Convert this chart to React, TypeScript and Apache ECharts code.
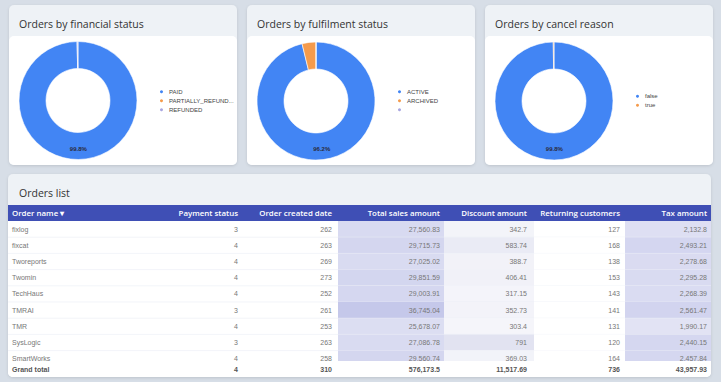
import React, { useEffect, useRef } from "react";
import * as echarts from "echarts";

const financialNames = ["PAID", "PARTIALLY_REFUNDED", "REFUNDED"];
const financialValues = [99.8, 0, 0.2];
const fulfilmentNames = ["ACTIVE", "ARCHIVED", " "];
const fulfilmentValues = [96.2, 3.8, 0];
const cancelNames = ["false", "true"];
const cancelValues = [99.8, 0.2];

const cardTitles = ["Orders by financial status", "Orders by fulfilment status", "Orders by cancel reason"];
const tableTitle = "Orders list";
const headers = ["Order name ▾", "Payment status", "Order created date", "Total sales amount", "Discount amount", "Returning customers", "Tax amount"];

const orderNames = ["fixlog", "fixcat", "Tworeports", "Twomin", "TechHaus", "TMRAI", "TMR", "SysLogic", "SmartWorks"];
const paymentStatus = [3, 4, 4, 4, 4, 3, 4, 3, 4];
const createdDate = [262, 263, 269, 273, 252, 261, 253, 263, 258];
const totalSales = [27560.83, 29715.73, 27025.02, 29851.59, 29003.91, 36745.04, 25678.07, 27086.78, 29560.74];
const discountAmount = [342.7, 583.74, 388.7, 406.41, 317.15, 352.73, 303.4, 791, 369.03];
const returningCustomers = [127, 168, 138, 153, 143, 141, 131, 120, 164];
const taxAmount = [2132.8, 2493.21, 2278.68, 2295.28, 2268.39, 2561.47, 1990.17, 2440.15, 2457.84];
const grandTotalLabel = "Grand total";
const grandTotals = [4, 310, 576173.5, 11517.69, 736, 43957.93];

const PALETTE = ["#4285f4", "#f59b4c", "#a9a6e0"];

function fmt(v: number) {
  return v.toLocaleString("en-US", { maximumFractionDigits: 2 });
}
function hex(c: string) {
  return [1, 3, 5].map((i) => parseInt(c.slice(i, i + 2), 16));
}
function lerp(c0: string, c1: string, t: number) {
  const a = hex(c0), b = hex(c1);
  return "rgb(" + a.map((v, i) => Math.round(v + (b[i] - v) * t)).join(",") + ")";
}
function scaleColor(arr: number[], v: number, c0: string, c1: string) {
  const mn = Math.min(...arr), mx = Math.max(...arr);
  return lerp(c0, c1, (v - mn) / (mx - mn));
}

export default function App() {
  const ref = useRef<HTMLDivElement>(null);
  useEffect(() => {
    if (!ref.current) return;
    const chart = echarts.init(ref.current, undefined, { renderer: "svg" });
    const titleFont = "'Open Sans', sans-serif";
    const headFont = "'Open Sans', sans-serif";
    const cellFont = "'Liberation Sans', Arial, sans-serif";
    const shadow = { shadowBlur: 3, shadowOffsetY: 1, shadowColor: "rgba(0,0,0,0.12)" };
    const g: any[] = [];
    const cardX = [9, 247, 485];
    cardX.forEach((x, i) => {
      g.push({ type: "rect", shape: { x, y: 5, width: 228, height: 160, r: 5 }, style: { fill: "#eef2f6", ...shadow } });
      g.push({ type: "rect", shape: { x, y: 36, width: 228, height: 129, r: 5 }, style: { fill: "#ffffff" } });
      g.push({ type: "text", style: { text: cardTitles[i], x: x + 10, y: 23.5, fontSize: 10.5, fontFamily: titleFont, fill: "#333333", align: "left", verticalAlign: "middle" } });
    });
    // table card
    const L = 8, R = 711;
    g.push({ type: "rect", shape: { x: L, y: 174, width: R - L, height: 203, r: 5 }, style: { fill: "#eef2f6", ...shadow } });
    g.push({ type: "rect", shape: { x: L, y: 205, width: R - L, height: 172, r: [0, 0, 5, 5] }, style: { fill: "#ffffff" } });
    g.push({ type: "text", style: { text: tableTitle, x: 19, y: 193, fontSize: 10.5, fontFamily: titleFont, fill: "#333333", align: "left", verticalAlign: "middle" } });
    g.push({ type: "rect", shape: { x: L, y: 205, width: R - L, height: 16 }, style: { fill: "#3f4fb5" } });
    const textX = [12, 238, 332, 440, 527, 620, 707];
    const colBg: [number, number][] = [[338, 444], [444, 534], [534, 625], [625, 711]];
    headers.forEach((h, i) => {
      g.push({ type: "text", style: { text: h, x: textX[i], y: 213, fontSize: 7.9, fontWeight: 600, fontFamily: headFont, fill: "#ffffff", align: i === 0 ? "left" : "right", verticalAlign: "middle" } });
    });
    const rowH = 16.2, bodyTop = 221;
    orderNames.forEach((name, r) => {
      const y0 = bodyTop + r * rowH;
      const cy = y0 + rowH / 2;
      const bgs = [
        scaleColor(totalSales, totalSales[r], "#dcdef2", "#c5c8ea"),
        scaleColor(discountAmount, discountAmount[r], "#f5f5fa", "#e2e3f1"),
        "#ffffff",
        scaleColor(taxAmount, taxAmount[r], "#e2e3f4", "#d2d4ef"),
      ];
      colBg.forEach(([a, b], k) => {
        g.push({ type: "rect", shape: { x: a, y: y0, width: b - a, height: rowH }, style: { fill: bgs[k] } });
      });
      g.push({ type: "line", shape: { x1: L, y1: y0 + rowH, x2: R, y2: y0 + rowH }, style: { stroke: "rgba(235,237,245,0.8)", lineWidth: 0.8 } });
      const vals = [name, String(paymentStatus[r]), String(createdDate[r]), fmt(totalSales[r]), fmt(discountAmount[r]), fmt(returningCustomers[r]), fmt(taxAmount[r])];
      vals.forEach((v, i) => {
        g.push({ type: "text", style: { text: v, x: textX[i], y: cy, fontSize: 7, fontFamily: cellFont, fill: "#777777", align: i === 0 ? "left" : "right", verticalAlign: "middle" } });
      });
    });
    // grand total row (covers the clipped last row)
    g.push({ type: "rect", shape: { x: L, y: 361, width: R - L, height: 16, r: [0, 0, 5, 5] }, style: { fill: "#ffffff" } });
    const totals = [grandTotalLabel, ...grandTotals.map((v) => fmt(v))];
    totals.forEach((v, i) => {
      g.push({ type: "text", style: { text: v, x: textX[i], y: 369.3, fontSize: 7, fontWeight: "bold", fontFamily: cellFont, fill: "#555555", align: i === 0 ? "left" : "right", verticalAlign: "middle" } });
    });

    const pie = (names: string[], values: number[], center: number[]) => ({
      type: "pie",
      center,
      radius: [32, 59],
      startAngle: 90,
      clockwise: true,
      percentPrecision: 1,
      avoidLabelOverlap: false,
      itemStyle: { borderColor: "#ffffff", borderWidth: 0.6 },
      emphasis: { disabled: true },
      labelLine: { show: false },
      label: {
        show: true,
        position: "inside",
        fontSize: 6,
        fontWeight: "bold",
        color: "#2b2b3b",
        fontFamily: cellFont,
        formatter: (p: any) => p.percent.toFixed(1) + "%",
      },
      data: names.map((n, i) => ({ name: n, value: values[i], itemStyle: { color: PALETTE[i] }, label: { show: i === 0 } })),
    });
    const legend = (names: string[], left: number, top: number) => ({
      data: names,
      orient: "vertical",
      left,
      top,
      padding: 0,
      icon: "circle",
      itemWidth: 5,
      itemHeight: 5,
      itemGap: 2,
      selectedMode: false,
      textStyle: { fontSize: 6, lineHeight: 6, color: "#444444", fontFamily: cellFont, width: 67, overflow: "truncate", ellipsis: "..." },
    });

    chart.setOption({
      animation: false,
      backgroundColor: "#d7dee7",
      graphic: { elements: g },
      legend: [
        legend(financialNames, 158, 88.2),
        legend(fulfilmentNames, 396, 88.2),
        legend(cancelNames, 634, 92.8),
      ],
      series: [
        pie(financialNames, financialValues, [78, 100.5]),
        pie(fulfilmentNames, fulfilmentValues, [316, 101]),
        pie(cancelNames, cancelValues, [554, 101]),
      ],
    });
    return () => chart.dispose();
  }, []);
  return <div ref={ref} style={{ position: "fixed", left: 0, top: 0, width: 721, height: 382 }} />;
}
